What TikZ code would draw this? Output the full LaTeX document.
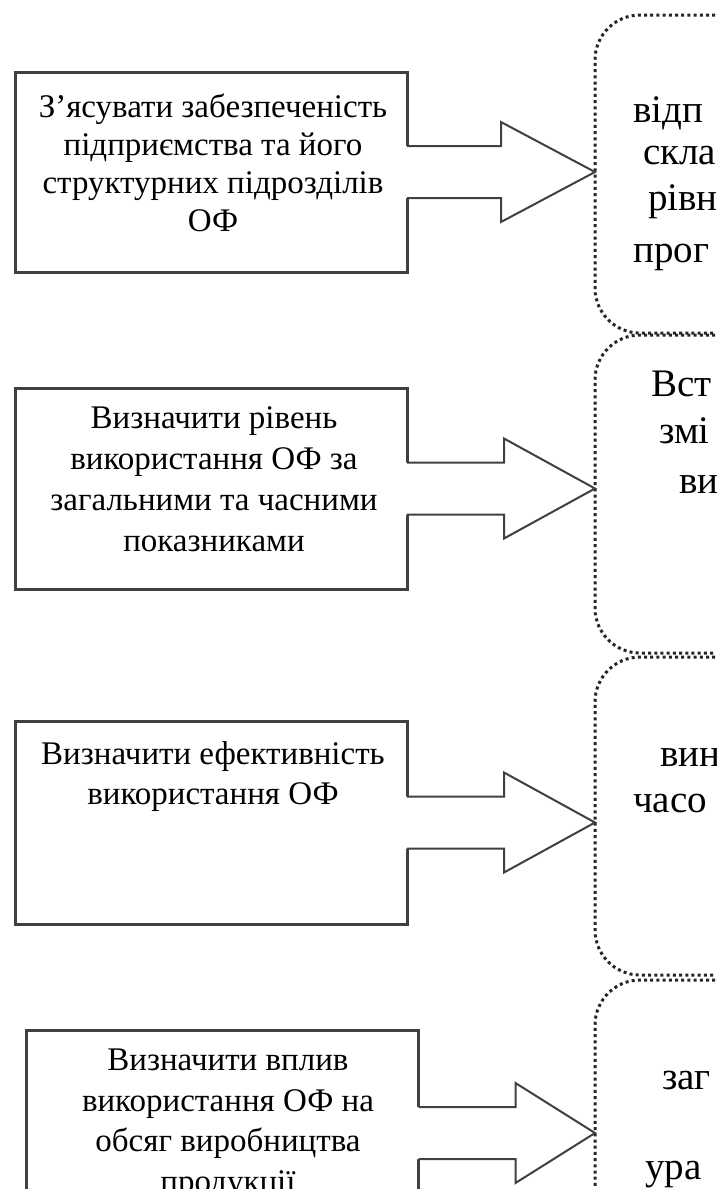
\documentclass[tikz,border=0pt]{standalone}
\usepackage{fontspec}
\setmainfont{Liberation Serif}
\usetikzlibrary{calc}
\newcommand\blockarr[3]{%
 \fill[white] ([shift={(-4,-26)}]#1.east) -- ([shift={(#3,-26)}]#1.east) -- ([shift={(#3,-50)}]#1.east) -- (#1.east -| #2.west) -- ([shift={(#3,50)}]#1.east) -- ([shift={(#3,26)}]#1.east) -- ([shift={(-4,26)}]#1.east) -- cycle;
 \draw[arrowline] ([shift={(0,-26)}]#1.east) -- ([shift={(#3,-26)}]#1.east) -- ([shift={(#3,-50)}]#1.east) -- (#1.east -| #2.west) -- ([shift={(#3,50)}]#1.east) -- ([shift={(#3,26)}]#1.east) -- ([shift={(0,26)}]#1.east);
}
\begin{document}
\begin{tikzpicture}[x=1pt,y=-1pt,
  lbox/.style={draw=black!75, line width=3pt, inner sep=0pt, outer sep=0pt, minimum width=392pt},
  ltext/.style={align=center, inner sep=0pt, anchor=north, font=\fontsize{33}{39.5}\selectfont},
  rbox/.style={draw=black!85, line width=3pt, dash pattern=on 3pt off 3.2pt, rounded corners=45pt, minimum width=500pt, minimum height=318pt, inner sep=0pt, outer sep=0pt, anchor=west},
  rtext/.style={anchor=base west, inner sep=0pt, font=\fontsize{39}{44}\selectfont},
  arrowline/.style={draw=black!75, line width=2pt, line join=miter},
]
\useasboundingbox (0,0) rectangle (716,1189);
\begin{scope}
\clip (0,0) rectangle (716,1189);
\fill[white] (0,0) rectangle (716,1189);
% left boxes
\node[lbox, minimum height=200pt] (l1) at (211,172) {};
\node[lbox, minimum height=201pt] (l2) at (211,488.5) {};
\node[lbox, minimum height=203pt] (l3) at (211,822.5) {};
\node[lbox, minimum height=206pt] (l4) at (222.5,1133) {};
\node[ltext, font=\fontsize{33}{38}\selectfont] (t1) at (213,94) {З’ясувати забезпеченість\\підприємства та його\\структурних підрозділів\\ОФ};
\node[ltext, font=\fontsize{33}{41}\selectfont] (t2) at (214,406) {Визначити рівень\\використання ОФ за\\загальними та часними\\показниками};
\node[ltext, font=\fontsize{33}{40}\selectfont] (t3) at (213,741) {Визначити ефективність\\використання ОФ};
\node[ltext, font=\fontsize{33}{40.5}\selectfont] (t4) at (228,1049) {Визначити вплив\\використання ОФ на\\обсяг виробництва\\продукції};
% right dotted boxes
\node[rbox] (r1) at (595,174) {};
\node[rbox] (r2) at (595,494) {};
\node[rbox] (r3) at (595,816) {};
\node[rbox] (r4) at (595,1139) {};
% arrows
\blockarr{l1}{r1}{94}
\blockarr{l2}{r2}{97}
\blockarr{l3}{r3}{97}
\blockarr{l4}{r4}{97}
% texts of right boxes
\node[rtext] (a1) at (633,122) {відп};
\node[rtext] (a2) at (643,164) {скла};
\node[rtext] (a3) at (648,210) {рівн};
\node[rtext] (a4) at (633,262) {прог};
\node[rtext] (b1) at (651,396) {Вст};
\node[rtext] (b2) at (659,443) {змі};
\node[rtext] (b3) at (679,493) {ви};
\node[rtext] (c1) at (660,766) {вин};
\node[rtext] (c2) at (633,812) {часо};
\node[rtext] (d1) at (662,1089) {заг};
\node[rtext] (d2) at (645,1179) {ура};
\end{scope}
\end{tikzpicture}
\end{document}
